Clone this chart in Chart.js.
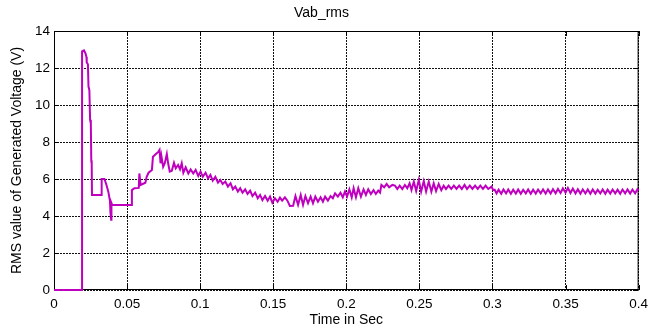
<!DOCTYPE html>
<html>
<head>
<meta charset="utf-8">
<script src="https://cdn.jsdelivr.net/npm/chart.js@4.4.1/dist/chart.umd.min.js"></script>
<style>
  html, body { margin: 0; padding: 0; background: #fff; }
  #wrap { width: 654px; height: 329px; }
</style>
</head>
<body>
<div id="wrap"><canvas id="chart" width="654" height="329"></canvas></div>
<script>
// values
const timeSec = [
  0, 0.0192, 0.0192, 0.0205, 0.0215, 0.0222, 0.0224, 0.0232, 0.0236, 0.0242,
  0.0247, 0.0252, 0.0255, 0.0258, 0.026, 0.0324, 0.0326, 0.0345, 0.0358, 0.0372,
  0.0383, 0.0386, 0.0391, 0.0393, 0.0398, 0.0532, 0.0533,
  0.055, 0.058, 0.0584, 0.0593, 0.0625, 0.0634, 0.0647, 0.067, 0.0677, 0.0697,
  0.0715, 0.0722, 0.0729, 0.0735, 0.0747, 0.0758, 0.0772, 0.0781, 0.0792, 0.0806,
  0.0821, 0.0833, 0.0849, 0.0862, 0.0874, 0.0885, 0.0901, 0.0919, 0.0935, 0.0953,
  0.0969, 0.0987, 0.1003, 0.1018, 0.1037, 0.1054, 0.107, 0.1086, 0.1104, 0.1122,
  0.1138, 0.1154, 0.1172, 0.119, 0.1208, 0.1224, 0.124, 0.1258, 0.1274, 0.129,
  0.1308, 0.1324, 0.1342, 0.1358, 0.1376, 0.1394, 0.141, 0.1426, 0.1444, 0.1462,
  0.1478, 0.1494, 0.1512, 0.153, 0.1546, 0.1561, 0.158, 0.1597, 0.1614,
  0.1636, 0.1652, 0.167, 0.1688, 0.1704, 0.172, 0.1738, 0.1756, 0.1772, 0.1788,
  0.1806, 0.1824, 0.184, 0.1855, 0.1874, 0.1892, 0.1908, 0.1923, 0.1942, 0.196,
  0.1976, 0.1991, 0.2005, 0.2021, 0.2037, 0.205, 0.2066, 0.2082, 0.21, 0.2118,
  0.2134, 0.215, 0.2168, 0.2186, 0.2202, 0.2218, 0.2231, 0.224, 0.2259, 0.2276,
  0.2293, 0.2315,
  0.2333, 0.2349, 0.2365, 0.2383, 0.2401, 0.2417, 0.2433, 0.2446, 0.2462, 0.2478,
  0.2496, 0.2512, 0.253, 0.2546, 0.2564, 0.2582, 0.2598, 0.2614, 0.2632, 0.265,
  0.2666, 0.2682, 0.27, 0.2718, 0.2736, 0.2754, 0.2772, 0.279, 0.2809, 0.2826,
  0.2845, 0.2863, 0.2881, 0.2899, 0.2917, 0.2935, 0.2953, 0.2971, 0.2994,
  0.3005, 0.3015, 0.3028, 0.3042, 0.306, 0.3075, 0.3093, 0.3108, 0.3126, 0.3142,
  0.316, 0.3176, 0.3194, 0.321, 0.3228, 0.3244, 0.3262, 0.3278, 0.3296, 0.3312,
  0.333, 0.3346, 0.3364, 0.338, 0.3398, 0.3414, 0.3432, 0.3448, 0.3466, 0.3482,
  0.35, 0.3516, 0.3534, 0.355, 0.3568, 0.3584, 0.3602, 0.3618, 0.3636, 0.3652,
  0.367, 0.3686, 0.3704, 0.372, 0.3738, 0.3754, 0.3772, 0.3788, 0.3806, 0.3822,
  0.384, 0.3856, 0.3874, 0.389, 0.3908, 0.3924, 0.3942, 0.3958, 0.3976, 0.3992,
  0.4
];
const vabRms = [
  0, 0, 12.9, 12.95, 12.8, 12.6, 12.3, 12.2, 11.0, 10.8,
  9.2, 9.0, 7.0, 6.8, 5.13, 5.13, 6.0, 6.0, 5.7, 5.3,
  4.8, 4.2, 3.8, 4.7, 4.6, 4.6, 5.4,
  5.5, 5.52, 6.3, 5.68, 5.8, 6.12, 6.34, 6.49, 7.2, 7.35,
  7.48, 7.57, 6.85, 7.24, 6.66, 6.85, 7.35, 6.85, 6.4, 6.44,
  6.88, 6.58, 6.76, 6.52, 6.85, 6.34, 6.63, 6.3, 6.52, 6.3,
  6.49, 6.16, 6.4, 6.12, 6.34, 6.03, 6.22, 5.91, 6.12, 5.8,
  5.95, 5.73, 5.86, 5.59, 5.77, 5.44, 5.59, 5.32, 5.5, 5.26,
  5.44, 5.19, 5.37, 5.08, 5.26, 4.96, 5.14, 4.86, 5.08, 4.83,
  5.05, 4.72, 4.96, 4.77, 4.99, 4.83, 5.01, 4.83, 4.54,
  4.55, 5.08, 4.6, 5.14, 4.6, 5.08, 4.69, 5.05, 4.69, 5.05,
  4.77, 5.01, 4.77, 5.05, 4.83, 5.08, 4.96, 5.22, 5.05, 5.26,
  5.01, 5.32, 5.05, 5.44, 5.01, 5.5, 5.01, 5.5, 5.05, 5.44,
  5.14, 5.44, 5.19, 5.4, 5.19, 5.37, 5.26, 5.68, 5.55, 5.73,
  5.55, 5.68,
  5.64, 5.46, 5.64, 5.46, 5.68, 5.5, 5.77, 5.4, 5.86, 5.35,
  5.95, 5.32, 5.89, 5.32, 5.86, 5.32, 5.77, 5.35, 5.73, 5.4,
  5.64, 5.46, 5.64, 5.46, 5.64, 5.46, 5.64, 5.46, 5.68, 5.46,
  5.64, 5.46, 5.64, 5.46, 5.64, 5.46, 5.64, 5.46, 5.59,
  5.4, 5.42, 5.22, 5.42, 5.2, 5.43, 5.22, 5.43, 5.2, 5.42,
  5.21, 5.43, 5.2, 5.42, 5.22, 5.43, 5.2, 5.42, 5.21, 5.43,
  5.22, 5.44, 5.21, 5.44, 5.22, 5.45, 5.23, 5.46, 5.24, 5.5,
  5.26, 5.52, 5.24, 5.48, 5.22, 5.45, 5.21, 5.44, 5.22, 5.43,
  5.2, 5.43, 5.21, 5.42, 5.22, 5.43, 5.2, 5.42, 5.21, 5.43,
  5.22, 5.42, 5.2, 5.43, 5.22, 5.44, 5.21, 5.43, 5.22, 5.45,
  5.38
];
const xTicks = [0, 0.05, 0.1, 0.15, 0.2, 0.25, 0.3, 0.35, 0.4];
const xTickLabels = ['0', '0.05', '0.1', '0.15', '0.2', '0.25', '0.3', '0.35', '0.4'];
const yTicks = [0, 2, 4, 6, 8, 10, 12, 14];
const yTickLabels = ['0', '2', '4', '6', '8', '10', '12', '14'];

const points = timeSec.map((t, i) => ({ x: t, y: vabRms[i] }));
const FONT = "'Liberation Sans', Arial, sans-serif";

// matlab style box with inward ticks
const boxPlugin = {
  id: 'box',
  beforeDatasetsDraw(chart) {
    const { ctx, chartArea: a, scales: { x, y } } = chart;
    ctx.save();
    ctx.strokeStyle = '#000';
    ctx.lineWidth = 1;
    ctx.strokeRect(a.left + 0.5, a.top + 0.5, a.right - a.left - 1, a.bottom - a.top - 1);
    ctx.beginPath();
    xTicks.forEach(v => {
      const px = Math.round(x.getPixelForValue(v)) + 0.5;
      ctx.moveTo(px, a.bottom); ctx.lineTo(px, a.bottom - 5);
      ctx.moveTo(px, a.top); ctx.lineTo(px, a.top + 5);
    });
    yTicks.forEach(v => {
      const py = Math.round(y.getPixelForValue(v)) + 0.5;
      ctx.moveTo(a.left, py); ctx.lineTo(a.left + 5, py);
      ctx.moveTo(a.right, py); ctx.lineTo(a.right - 5, py);
    });
    ctx.stroke();
    ctx.restore();
  }
};

new Chart(document.getElementById('chart'), {
  type: 'line',
  data: {
    datasets: [{
      label: 'Vab_rms',
      data: points,
      borderColor: '#bf00bf',
      borderWidth: 2,
      pointRadius: 0,
      tension: 0,
      fill: false,
      clip: 3
    }]
  },
  options: {
    responsive: false,
    animation: false,
    layout: { padding: { top: 0, right: 11, bottom: 0, left: 0 } },
    plugins: {
      legend: { display: false },
      tooltip: { enabled: false },
      title: {
        display: true,
        text: 'Vab_rms',
        color: '#000',
        font: { family: FONT, size: 14, weight: 'normal' },
        padding: { top: 5, bottom: 9.2 }
      }
    },
    scales: {
      x: {
        type: 'linear',
        min: 0,
        max: 0.4,
        afterFit: s => { s.height = 39; },
        afterBuildTicks: s => { s.ticks = xTicks.map(v => ({ value: v })); },
        ticks: {
          color: '#000',
          font: { family: FONT, size: 13.5 },
          padding: 6,
          maxRotation: 0,
          autoSkip: false,
          callback: (v, i) => xTickLabels[i]
        },
        grid: { color: '#111', lineWidth: 1, drawTicks: false },
        border: { display: false, dash: [2, 1] },
        title: {
          display: true,
          text: 'Time in Sec',
          color: '#000',
          font: { family: FONT, size: 14 },
          padding: { top: 0, bottom: 0.6 }
        }
      },
      y: {
        type: 'linear',
        min: 0,
        max: 14,
        afterFit: s => { s.width = 54; },
        afterBuildTicks: s => { s.ticks = yTicks.map(v => ({ value: v })); },
        ticks: {
          color: '#000',
          font: { family: FONT, size: 13.5 },
          padding: 4,
          autoSkip: false,
          callback: (v, i) => yTickLabels[i]
        },
        grid: { color: '#111', lineWidth: 1, drawTicks: false },
        border: { display: false, dash: [2, 1] },
        title: {
          display: true,
          text: 'RMS value of Generated Voltage (V)',
          color: '#000',
          font: { family: FONT, size: 14 },
          padding: { top: 8.6, bottom: 0 }
        }
      }
    }
  },
  plugins: [boxPlugin]
});
</script>
</body>
</html>
